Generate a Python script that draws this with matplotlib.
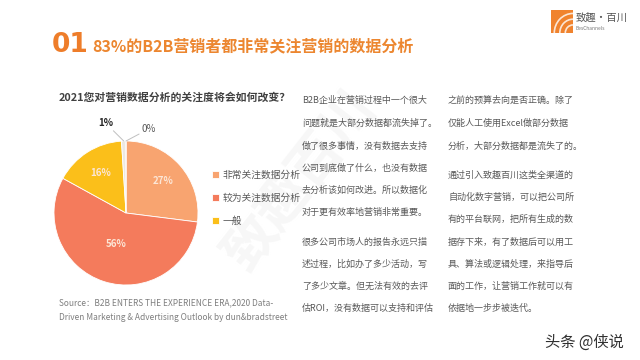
import matplotlib
matplotlib.use("Agg")
import matplotlib.pyplot as plt
import numpy as np
from matplotlib.patches import Rectangle, Arc

plt.rcParams['font.family'] = ['Noto Sans CJK SC', 'DejaVu Sans']

W, H = 640, 360

# chart data
categories = ['非常关注数据分析', '较为关注数据分析', '一般', '', '']
shares = [27, 56, 16, 1, 0]
share_labels = ['27%', '56%', '16%', '1%', '0%']
colors = ['#F8A470', '#F47B5C', '#FBBF1A', '#EDE8E0', '#D9D9D9']

title = '2021您对营销数据分析的关注度将会如何改变？'
heading_num = '01'
heading = '83%的B2B营销者都非常关注营销的数据分析'
source = ['Source：B2B ENTERS THE EXPERIENCE ERA,2020 Data-',
          'Driven Marketing & Advertising Outlook by dun&bradstreet']

left_col = [
    ['B2B企业在营销过程中一个很大', '问题就是大部分数据都流失掉了。',
     '做了很多事情，没有数据去支持', '公司到底做了什么，也没有数据',
     '去分析该如何改进。所以数据化', '对于更有效率地营销非常重要。'],
    ['很多公司市场人的报告永远只描', '述过程，比如办了多少活动，写',
     '了多少文章。但无法有效的去评', '估ROI，没有数据可以支持和评估'],
]
right_col = [
    ['之前的预算去向是否正确。除了', '仅能人工使用Excel做部分数据',
     '分析，大部分数据都是流失了的。'],
    ['通过引入致趣百川这类全渠道的', '自动化数字营销，可以把公司所',
     '有的平台联网，把所有生成的数', '据存下来，有了数据后可以用工',
     '具、算法或逻辑处理，来指导后', '面的工作，让营销工作就可以有',
     '依据地一步步被迭代。'],
]


def px(x, y):
    return x / W, 1 - y / H


fig = plt.figure(figsize=(6.4, 3.6), dpi=100)
fig.patch.set_facecolor('white')

# faint diagonal watermark
fig.text(*px(300, 180), '致趣百川', fontsize=38, color='#F7F7F7', rotation=52,
         ha='center', va='center', fontweight='bold', zorder=0)

# heading
fig.text(*px(52, 45), heading_num, fontsize=19, fontweight='bold',
         color='#EE7D2A', va='center', ha='left', family=['DejaVu Sans'])
fig.text(*px(92, 46), heading, fontsize=11.5, fontweight='bold',
         color='#EC862F', va='center', ha='left')

# logo
lax = fig.add_axes([551 / W, 1 - 33 / H, 22 / W, 23 / H])
lax.set_xlim(0, 1)
lax.set_ylim(0, 1)
lax.axis('off')
lax.add_patch(Rectangle((0, 0), 1, 1, color='#F0832E'))
for r in (0.35, 0.6, 0.85):
    lax.add_patch(Arc((1, 0), 2 * r, 2 * r, theta1=90, theta2=180,
                      color='white', lw=1.2, alpha=0.8))
fig.text(*px(576, 18), '致趣·百川', fontsize=7.5, color='#555555',
         va='center', ha='left')
fig.text(*px(576, 29), 'BesChannels', fontsize=3.5, color='#777777',
         va='center', ha='left')

# pie title
fig.text(*px(59, 97), title, fontsize=7.8, fontweight='bold',
         color='#404040', va='center', ha='left')

# pie
cx, cy, r = 126, 213, 72
ax = fig.add_axes([(cx - r) / W, 1 - (cy + r) / H, 2 * r / W, 2 * r / H])
wedges, _ = ax.pie(shares, colors=colors, startangle=90, counterclock=False,
                   radius=1, wedgeprops=dict(edgecolor='white', linewidth=0.6))
ax.set_xlim(-1, 1)
ax.set_ylim(-1, 1)
ax.set_aspect('equal')
ax.axis('off')

inner_dist = [0.68, 0.46, 0.66]
for w, lab, d in zip(wedges[:3], share_labels[:3], inner_dist):
    mid = np.deg2rad((w.theta1 + w.theta2) / 2)
    ax.text(d * np.cos(mid), d * np.sin(mid), lab, ha='center', va='center',
            fontsize=7, fontweight='bold', color='#FCE6D6')

# small slices with leader lines
small = [(wedges[3], share_labels[3], (-0.18, 1.25), 'right', 'bold', '#262626'),
         (wedges[4], share_labels[4], (0.22, 1.17), 'left', 'normal', '#595959')]
for w, lab, xytext, ha, fw, col in small:
    mid = np.deg2rad((w.theta1 + w.theta2) / 2)
    ax.annotate(lab, xy=(np.cos(mid), np.sin(mid)), xytext=xytext,
                ha=ha, va='center', fontsize=7, fontweight=fw, color=col,
                arrowprops=dict(arrowstyle='-', color='#BFBFBF', lw=0.7,
                                shrinkA=0, shrinkB=0),
                annotation_clip=False)

# legend
fig.legend(wedges[:3], categories[:3], loc='upper left',
           bbox_to_anchor=px(203, 161), frameon=False, fontsize=7,
           labelcolor='#595959', handlelength=0.7, handleheight=0.7,
           handletextpad=0.4, labelspacing=1.35)

# source note
for i, line in enumerate(source):
    fig.text(*px(59, 303 + i * 15), line, fontsize=6, color='#7F7F7F',
             va='center', ha='left')

# body text columns
left_y = [[100, 123, 146, 168, 190, 212], [242, 264, 286, 308]]
right_y = [[100, 123, 146], [175, 197, 219, 242, 264, 286, 308]]
for col, ys, x0 in ((left_col, left_y, 302), (right_col, right_y, 448)):
    for para, yy in zip(col, ys):
        for line, y in zip(para, yy):
            fig.text(*px(x0, y), line, fontsize=6.5, color='#595959',
                     va='center', ha='left')

# corner watermark
fig.text(*px(545, 342), '头条 @侠说', fontsize=11, color='#303030',
         va='center', ha='left')

fig.savefig('out.png', dpi=100)
